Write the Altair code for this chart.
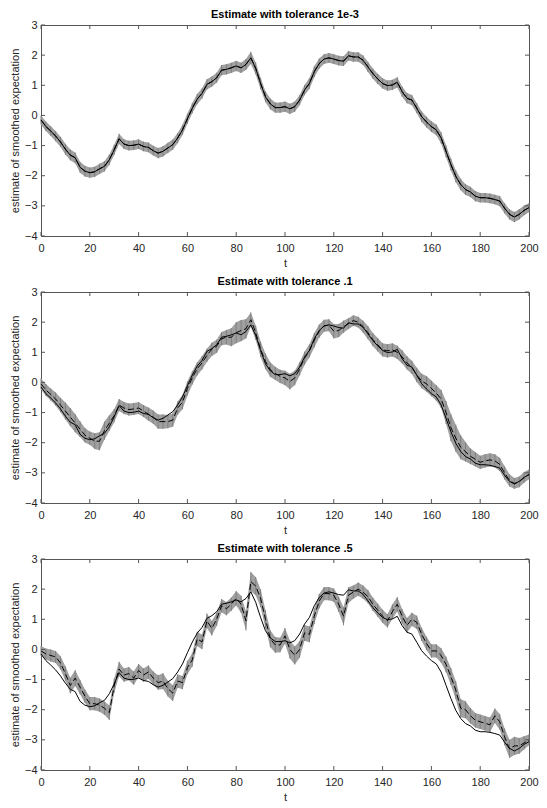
import altair as alt
import pandas as pd

t = list(range(0, 201, 2))

true_vals = [-0.15, -0.37, -0.52, -0.68, -0.88, -1.12, -1.32, -1.40, -1.72, -1.85,
             -1.90, -1.87, -1.77, -1.69, -1.47, -1.14, -0.77, -0.95, -1.00, -0.99,
             -0.95, -1.03, -1.06, -1.17, -1.25, -1.19, -1.08, -0.97, -0.75, -0.48,
             -0.11, 0.24, 0.54, 0.73, 1.03, 1.12, 1.25, 1.50, 1.53, 1.58,
             1.64, 1.58, 1.69, 1.91, 1.56, 1.06, 0.62, 0.38, 0.26, 0.26,
             0.29, 0.22, 0.29, 0.51, 0.84, 1.06, 1.45, 1.72, 1.87, 1.91,
             1.87, 1.82, 1.80, 1.98, 1.94, 1.94, 1.83, 1.61, 1.39, 1.21,
             1.06, 0.99, 1.01, 1.10, 0.79, 0.57, 0.51, 0.24, -0.04, -0.22,
             -0.37, -0.48, -0.75, -1.19, -1.63, -2.02, -2.29, -2.46, -2.54, -2.68,
             -2.73, -2.73, -2.75, -2.79, -2.84, -3.08, -3.28, -3.37, -3.28, -3.15,
             -3.06]

est1 = [-0.15, -0.36, -0.52, -0.69, -0.88, -1.12, -1.31, -1.41, -1.72, -1.85,
        -1.90, -1.87, -1.77, -1.69, -1.47, -1.14, -0.78, -0.95, -1.00, -0.99,
        -0.95, -1.03, -1.06, -1.17, -1.25, -1.19, -1.08, -0.97, -0.75, -0.48,
        -0.11, 0.24, 0.54, 0.73, 1.03, 1.12, 1.25, 1.50, 1.53, 1.58,
        1.64, 1.58, 1.69, 1.91, 1.56, 1.06, 0.62, 0.38, 0.26, 0.26,
        0.29, 0.22, 0.29, 0.51, 0.84, 1.06, 1.45, 1.72, 1.87, 1.91,
        1.87, 1.82, 1.80, 1.98, 1.94, 1.94, 1.83, 1.61, 1.39, 1.21,
        1.06, 0.99, 1.01, 1.10, 0.79, 0.57, 0.51, 0.24, -0.04, -0.22,
        -0.37, -0.48, -0.75, -1.19, -1.63, -2.02, -2.29, -2.46, -2.54, -2.68,
        -2.73, -2.73, -2.75, -2.79, -2.84, -3.08, -3.28, -3.37, -3.28, -3.15,
        -3.06]
hw1 = [0.15, 0.16, 0.16, 0.17, 0.17, 0.18, 0.18, 0.18, 0.18, 0.18,
       0.17, 0.17, 0.17, 0.17, 0.17, 0.17, 0.17, 0.16, 0.16, 0.16,
       0.16, 0.16, 0.16, 0.16, 0.17, 0.17, 0.17, 0.17, 0.17, 0.17,
       0.17, 0.17, 0.17, 0.17, 0.17, 0.17, 0.17, 0.17, 0.17, 0.17,
       0.17, 0.17, 0.18, 0.20, 0.20, 0.19, 0.18, 0.18, 0.17, 0.17,
       0.17, 0.17, 0.17, 0.17, 0.17, 0.18, 0.18, 0.17, 0.16, 0.16,
       0.16, 0.16, 0.16, 0.16, 0.16, 0.16, 0.16, 0.17, 0.17, 0.17,
       0.17, 0.17, 0.17, 0.17, 0.17, 0.17, 0.17, 0.17, 0.18, 0.18,
       0.18, 0.18, 0.19, 0.20, 0.20, 0.20, 0.19, 0.18, 0.17, 0.17,
       0.16, 0.16, 0.16, 0.16, 0.17, 0.17, 0.17, 0.17, 0.17, 0.16,
       0.15]

est2 = [-0.05, -0.25, -0.40, -0.55, -0.75, -0.95, -1.15, -1.35, -1.55, -1.75,
        -1.85, -1.95, -1.95, -1.60, -1.35, -1.10, -0.75, -0.85, -0.90, -0.88,
        -0.85, -0.95, -1.05, -1.15, -1.30, -1.30, -1.30, -1.25, -0.85, -0.65,
        -0.20, 0.15, 0.45, 0.65, 0.90, 1.10, 1.20, 1.45, 1.50, 1.50,
        1.65, 1.72, 1.78, 2.08, 1.65, 1.10, 0.70, 0.42, 0.30, 0.20,
        0.15, 0.03, 0.15, 0.45, 0.80, 1.05, 1.40, 1.70, 1.88, 1.90,
        1.70, 1.72, 1.85, 1.95, 2.05, 2.00, 1.85, 1.65, 1.42, 1.25,
        1.08, 1.05, 1.08, 1.00, 0.85, 0.65, 0.50, 0.25, 0.05, -0.05,
        -0.20, -0.35, -0.55, -1.00, -1.50, -1.85, -2.15, -2.30, -2.45, -2.55,
        -2.65, -2.60, -2.57, -2.60, -2.72, -3.00, -3.25, -3.35, -3.30, -3.15,
        -3.05]
hw2 = [0.18, 0.20, 0.20, 0.22, 0.24, 0.28, 0.30, 0.30, 0.26, 0.24,
       0.22, 0.26, 0.30, 0.30, 0.26, 0.22, 0.20, 0.20, 0.20, 0.20,
       0.20, 0.20, 0.22, 0.22, 0.24, 0.24, 0.22, 0.22, 0.22, 0.24,
       0.24, 0.22, 0.22, 0.22, 0.22, 0.22, 0.22, 0.22, 0.24, 0.30,
       0.35, 0.35, 0.32, 0.24, 0.24, 0.26, 0.26, 0.24, 0.22, 0.22,
       0.24, 0.26, 0.24, 0.22, 0.22, 0.22, 0.24, 0.22, 0.20, 0.20,
       0.24, 0.22, 0.20, 0.18, 0.18, 0.18, 0.20, 0.22, 0.22, 0.22,
       0.22, 0.22, 0.22, 0.22, 0.22, 0.22, 0.22, 0.24, 0.24, 0.26,
       0.26, 0.26, 0.30, 0.38, 0.45, 0.45, 0.40, 0.32, 0.26, 0.24,
       0.22, 0.22, 0.22, 0.22, 0.22, 0.22, 0.20, 0.18, 0.18, 0.18,
       0.16]

est3 = [-0.05, -0.15, -0.20, -0.25, -0.45, -0.80, -1.20, -0.95, -1.25, -1.55,
        -1.80, -1.80, -1.85, -1.95, -2.10, -1.20, -0.65, -0.85, -0.80, -0.95,
        -0.70, -0.85, -0.75, -0.95, -1.10, -1.05, -1.30, -1.45, -1.05, -1.10,
        -0.60, -0.35, 0.35, 0.25, 0.95, 0.70, 1.00, 1.45, 1.35, 1.50,
        1.70, 1.50, 0.95, 2.25, 2.10, 1.70, 1.00, 0.35, 0.15, 0.15,
        0.45, 0.00, -0.20, 0.00, 0.55, 0.50, 1.10, 1.60, 1.85, 1.85,
        1.80, 1.50, 1.10, 1.80, 1.90, 2.00, 1.90, 1.75, 1.50, 1.30,
        1.10, 0.95, 1.25, 1.50, 1.10, 0.80, 1.00, 0.90, 0.50, 0.20,
        -0.05, -0.05, -0.20, -0.50, -0.90, -1.35, -1.95, -2.00, -2.20, -2.35,
        -2.40, -2.45, -2.50, -2.20, -2.40, -2.90, -3.30, -3.20, -3.20, -3.10,
        -3.00]
hw3 = [0.16, 0.18, 0.20, 0.20, 0.22, 0.24, 0.26, 0.26, 0.24, 0.22,
       0.22, 0.22, 0.22, 0.22, 0.24, 0.24, 0.24, 0.22, 0.22, 0.22,
       0.22, 0.22, 0.22, 0.22, 0.24, 0.26, 0.26, 0.26, 0.22, 0.22,
       0.22, 0.22, 0.24, 0.24, 0.24, 0.24, 0.22, 0.22, 0.22, 0.22,
       0.24, 0.28, 0.32, 0.32, 0.30, 0.30, 0.30, 0.28, 0.26, 0.24,
       0.26, 0.30, 0.30, 0.28, 0.26, 0.26, 0.26, 0.24, 0.22, 0.22,
       0.22, 0.26, 0.30, 0.26, 0.22, 0.22, 0.22, 0.22, 0.22, 0.22,
       0.22, 0.22, 0.24, 0.24, 0.24, 0.24, 0.22, 0.22, 0.22, 0.22,
       0.22, 0.22, 0.24, 0.26, 0.28, 0.30, 0.30, 0.28, 0.26, 0.24,
       0.24, 0.24, 0.24, 0.24, 0.26, 0.28, 0.30, 0.30, 0.26, 0.22,
       0.18]

titles = ["Estimate with tolerance 1e-3",
          "Estimate with tolerance .1",
          "Estimate with tolerance .5"]
xticks = list(range(0, 201, 20))
yticks = list(range(-4, 4))

W, H = 488, 211
TICK = 4
AX = "#555555"
TXT = "#262626"

xs = alt.Scale(domain=[0, 200], nice=False, zero=False)
ys = alt.Scale(domain=[-4, 3], nice=False, zero=False)

xaxis = alt.Axis(values=xticks, title="t", tickSize=0, domain=False, grid=False,
                 labelPadding=6, titlePadding=4, labelFontSize=11, titleFontSize=11,
                 titleFontWeight="normal", labelColor=TXT, titleColor=TXT, labelFlush=False)
yaxis = alt.Axis(values=yticks, title="estimate of smoothed expectation", tickSize=0,
                 domain=False, grid=False, labelPadding=4, titlePadding=4, labelFontSize=11,
                 titleFontSize=11, titleFontWeight="normal", labelColor=TXT, titleColor=TXT,
                 format="d", labelFlush=False)

xt_df = pd.DataFrame({"v": xticks})
yt_df = pd.DataFrame({"v": yticks})


def X(field):
    return alt.X(field, scale=xs, axis=xaxis)


def Y(field):
    return alt.Y(field, scale=ys, axis=yaxis)


def panel(est, hw, title):
    df = pd.DataFrame({
        "t": t,
        "true": true_vals,
        "est": est,
        "lo": [e - h for e, h in zip(est, hw)],
        "hi": [e + h for e, h in zip(est, hw)],
    })
    base = alt.Chart(df)
    area = base.mark_area(color="#a0a0a0", opacity=1).encode(
        x=X("t:Q"), y=Y("lo:Q"), y2="hi:Q")
    bars = base.mark_rule(color="#808080", strokeWidth=1).encode(
        x=X("t:Q"), y=Y("lo:Q"), y2="hi:Q")
    true_line = base.mark_line(color="black", strokeWidth=1).encode(
        x=X("t:Q"), y=Y("true:Q"))
    est_line = base.mark_line(color="black", strokeWidth=1, strokeDash=[6, 3]).encode(
        x=X("t:Q"), y=Y("est:Q"))
    xb = alt.Chart(xt_df).mark_rule(color=AX).encode(
        x=X("v:Q"), y=alt.value(H), y2=alt.value(H - TICK))
    xtop = alt.Chart(xt_df).mark_rule(color=AX).encode(
        x=X("v:Q"), y=alt.value(0), y2=alt.value(TICK))
    yl = alt.Chart(yt_df).mark_rule(color=AX).encode(
        y=Y("v:Q"), x=alt.value(0), x2=alt.value(TICK))
    yr = alt.Chart(yt_df).mark_rule(color=AX).encode(
        y=Y("v:Q"), x=alt.value(W - TICK), x2=alt.value(W))
    return alt.layer(area, bars, true_line, est_line, xb, xtop, yl, yr).properties(
        width=W, height=H,
        title=alt.TitleParams(text=title, fontSize=11, fontWeight="bold", anchor="middle",
                              offset=-1, color="black"),
    )


chart = alt.vconcat(
    panel(est1, hw1, titles[0]),
    panel(est2, hw2, titles[1]),
    panel(est3, hw3, titles[2]),
    spacing=6,
).properties(
    padding={"left": 0, "top": 0, "right": 0, "bottom": -2}
).configure(
    font="Liberation Sans"
).configure_view(
    stroke=AX, strokeWidth=1
)

chart.save("out.html", embed_options={"renderer": "svg", "actions": False})
